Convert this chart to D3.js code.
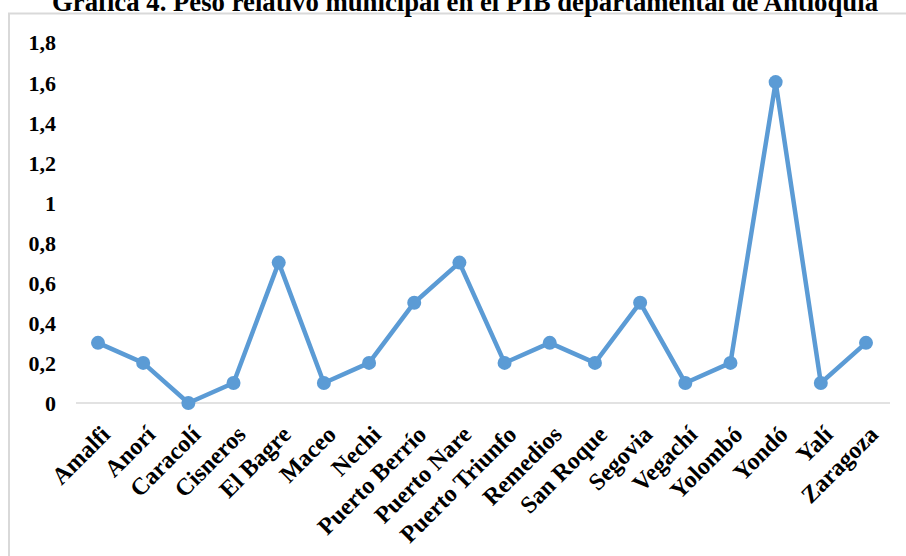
<!DOCTYPE html>
<html><head><meta charset="utf-8">
<script src="https://cdn.jsdelivr.net/npm/d3@7"></script>
<style>body{margin:0;background:#fff}svg{display:block}</style>
</head><body>
<svg id="c" width="906" height="556"></svg>
<script>
const title = "Gráfica 4. Peso relativo municipal en el PIB departamental de Antioquia";
const categories = ["Amalfi","Anorí","Caracolí","Cisneros","El Bagre","Maceo","Nechi","Puerto Berrío","Puerto Nare","Puerto Triunfo","Remedios","San Roque","Segovia","Vegachí","Yolombó","Yondó","Yalí","Zaragoza"];
const values = [0.3,0.2,0,0.1,0.7,0.1,0.2,0.5,0.7,0.2,0.3,0.2,0.5,0.1,0.2,1.6,0.1,0.3];
const yTicks = [0,0.2,0.4,0.6,0.8,1,1.2,1.4,1.6,1.8];

const svg = d3.select("#c");
const font = "'Liberation Serif','Times New Roman',serif";
const color = "#5B9BD5";

// frame
svg.append("rect").attr("x",9).attr("y",13.5).attr("width",920).attr("height",600)
  .attr("fill","none").attr("stroke","#d9d9d9").attr("stroke-width",2);

const t = svg.append("text").attr("x",465).attr("y",11).attr("text-anchor","middle")
  .attr("font-family",font).attr("font-weight","bold").attr("font-size",27)
  .text(title);
const tw = t.node().getComputedTextLength();
if (tw > 0) t.attr("textLength", 826).attr("lengthAdjust","spacingAndGlyphs");

const x = d3.scalePoint().domain(categories).range([98,866]);
const y = d3.scaleLinear().domain([0,1.8]).range([403,42]);

// baseline
svg.append("line").attr("x1",76).attr("x2",890).attr("y1",y(0)).attr("y2",y(0))
  .attr("stroke","#d9d9d9").attr("stroke-width",1.5);

const yAxis = d3.axisLeft(y).tickValues(yTicks).tickSize(0).tickPadding(0)
  .tickFormat(d => String(d).replace(".",","));
const gy = svg.append("g").attr("transform","translate(56,0)").call(yAxis);
gy.select(".domain").remove();
gy.selectAll("text").attr("font-family",font).attr("font-weight","bold").attr("font-size",22).attr("fill","#000").attr("dy","0.36em");

const xAxis = d3.axisBottom(x).tickSize(0).tickPadding(0);
const gx = svg.append("g").attr("transform","translate(0,"+(y(0))+")").call(xAxis);
gx.select(".domain").remove();
gx.selectAll("text").attr("font-family",font).attr("font-weight","bold").attr("font-size",24).attr("fill","#000")
  .attr("text-anchor","end").attr("dy",null).attr("y",0)
  .attr("transform","translate(13,33) rotate(-45)");

const line = d3.line().x((d,i)=>x(categories[i])).y(d=>y(d));
svg.append("path").datum(values).attr("d",line).attr("fill","none")
  .attr("stroke",color).attr("stroke-width",4.5).attr("stroke-linejoin","round");
svg.selectAll("circle.pt").data(values).enter().append("circle").attr("class","pt")
  .attr("cx",(d,i)=>x(categories[i])).attr("cy",d=>y(d)).attr("r",7).attr("fill",color);
</script>
</body></html>
